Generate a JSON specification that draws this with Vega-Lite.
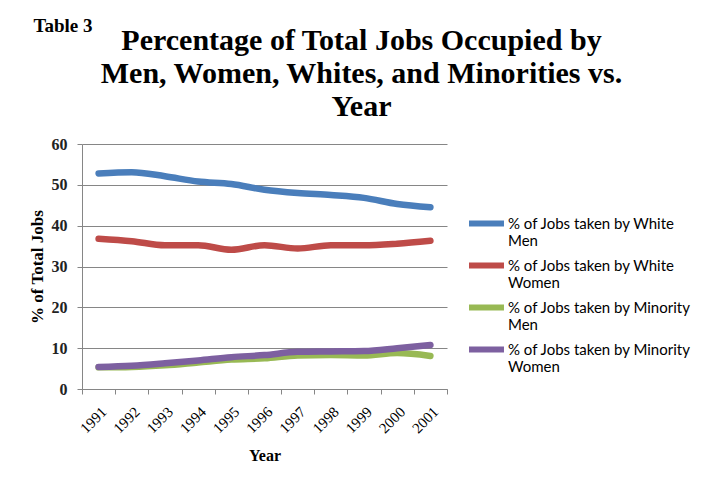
{
  "$schema": "https://vega.github.io/schema/vega-lite/v6.json",
  "width": 365,
  "height": 245,
  "autosize": {"type": "none"},
  "padding": {"left": 82, "top": 144, "right": 263, "bottom": 93},
  "background": "white",
  "title": {
    "text": "Table 3",
    "subtitle": ["Percentage of Total Jobs Occupied by", "Men, Women, Whites, and Minorities vs.", "Year"],
    "anchor": "middle",
    "frame": "group",
    "font": "Liberation Serif",
    "fontSize": 19,
    "fontWeight": "bold",
    "color": "black",
    "subtitleFont": "Liberation Serif",
    "subtitleFontSize": 30,
    "subtitleFontWeight": "bold",
    "subtitleColor": "black",
    "subtitleLineHeight": 33,
    "subtitlePadding": -4,
    "offset": 20,
    "dx": 97,
    "encoding": {"align": {"value": "left"}, "dx": {"value": -231}, "dy": {"value": 6}}
  },
  "data": {
    "values": [
      {"Year": "1991", "Series": "% of Jobs taken by White Men", "Value": 52.8},
      {"Year": "1992", "Series": "% of Jobs taken by White Men", "Value": 53.1},
      {"Year": "1993", "Series": "% of Jobs taken by White Men", "Value": 52.1},
      {"Year": "1994", "Series": "% of Jobs taken by White Men", "Value": 50.8},
      {"Year": "1995", "Series": "% of Jobs taken by White Men", "Value": 50.2},
      {"Year": "1996", "Series": "% of Jobs taken by White Men", "Value": 48.8},
      {"Year": "1997", "Series": "% of Jobs taken by White Men", "Value": 48.0},
      {"Year": "1998", "Series": "% of Jobs taken by White Men", "Value": 47.5},
      {"Year": "1999", "Series": "% of Jobs taken by White Men", "Value": 46.8},
      {"Year": "2000", "Series": "% of Jobs taken by White Men", "Value": 45.3},
      {"Year": "2001", "Series": "% of Jobs taken by White Men", "Value": 44.5},
      {"Year": "1991", "Series": "% of Jobs taken by White Women", "Value": 36.8},
      {"Year": "1992", "Series": "% of Jobs taken by White Women", "Value": 36.2},
      {"Year": "1993", "Series": "% of Jobs taken by White Women", "Value": 35.2},
      {"Year": "1994", "Series": "% of Jobs taken by White Women", "Value": 35.2},
      {"Year": "1995", "Series": "% of Jobs taken by White Women", "Value": 34.1},
      {"Year": "1996", "Series": "% of Jobs taken by White Women", "Value": 35.2},
      {"Year": "1997", "Series": "% of Jobs taken by White Women", "Value": 34.4},
      {"Year": "1998", "Series": "% of Jobs taken by White Women", "Value": 35.2},
      {"Year": "1999", "Series": "% of Jobs taken by White Women", "Value": 35.2},
      {"Year": "2000", "Series": "% of Jobs taken by White Women", "Value": 35.6},
      {"Year": "2001", "Series": "% of Jobs taken by White Women", "Value": 36.3},
      {"Year": "1991", "Series": "% of Jobs taken by Minority Men", "Value": 5.3},
      {"Year": "1992", "Series": "% of Jobs taken by Minority Men", "Value": 5.4},
      {"Year": "1993", "Series": "% of Jobs taken by Minority Men", "Value": 5.8},
      {"Year": "1994", "Series": "% of Jobs taken by Minority Men", "Value": 6.5},
      {"Year": "1995", "Series": "% of Jobs taken by Minority Men", "Value": 7.2},
      {"Year": "1996", "Series": "% of Jobs taken by Minority Men", "Value": 7.5},
      {"Year": "1997", "Series": "% of Jobs taken by Minority Men", "Value": 8.2},
      {"Year": "1998", "Series": "% of Jobs taken by Minority Men", "Value": 8.3},
      {"Year": "1999", "Series": "% of Jobs taken by Minority Men", "Value": 8.2},
      {"Year": "2000", "Series": "% of Jobs taken by Minority Men", "Value": 8.8},
      {"Year": "2001", "Series": "% of Jobs taken by Minority Men", "Value": 8.1},
      {"Year": "1991", "Series": "% of Jobs taken by Minority Women", "Value": 5.4},
      {"Year": "1992", "Series": "% of Jobs taken by Minority Women", "Value": 5.7},
      {"Year": "1993", "Series": "% of Jobs taken by Minority Women", "Value": 6.3},
      {"Year": "1994", "Series": "% of Jobs taken by Minority Women", "Value": 7.0},
      {"Year": "1995", "Series": "% of Jobs taken by Minority Women", "Value": 7.8},
      {"Year": "1996", "Series": "% of Jobs taken by Minority Women", "Value": 8.3},
      {"Year": "1997", "Series": "% of Jobs taken by Minority Women", "Value": 9.1},
      {"Year": "1998", "Series": "% of Jobs taken by Minority Women", "Value": 9.2},
      {"Year": "1999", "Series": "% of Jobs taken by Minority Women", "Value": 9.3},
      {"Year": "2000", "Series": "% of Jobs taken by Minority Women", "Value": 10.0},
      {"Year": "2001", "Series": "% of Jobs taken by Minority Women", "Value": 10.8}
    ]
  },
  "mark": {"type": "line", "strokeWidth": 6.5, "interpolate": "monotone", "strokeCap": "round"},
  "encoding": {
    "x": {
      "field": "Year",
      "type": "ordinal",
      "bandPosition": 0.5,
      "scale": {"type": "band", "paddingInner": 0, "paddingOuter": 0},
      "axis": {
        "title": "Year",
        "titleFont": "Liberation Serif",
        "titleFontSize": 16,
        "titleFontWeight": "bold",
        "titleColor": "black",
        "titlePadding": 12,
        "labelAngle": -45,
        "labelFont": "Liberation Serif",
        "labelFontSize": 15,
        "labelColor": "black",
        "labelPadding": 10,
        "tickBand": "extent",
        "tickSize": 5,
        "tickColor": "#868686",
        "domainColor": "#868686",
        "grid": false
      }
    },
    "y": {
      "field": "Value",
      "type": "quantitative",
      "scale": {"domain": [0, 60], "nice": false},
      "axis": {
        "title": "% of Total Jobs",
        "titleFont": "Liberation Serif",
        "titleFontSize": 17,
        "titleFontWeight": "bold",
        "titleColor": "black",
        "titlePadding": 5,
        "values": [0, 10, 20, 30, 40, 50, 60],
        "labelFont": "Liberation Serif",
        "labelFontSize": 16,
        "labelFontWeight": "bold",
        "labelColor": "#222222",
        "labelPadding": 10,
        "tickSize": 5,
        "tickColor": "#868686",
        "domainColor": "#868686",
        "grid": true,
        "gridColor": "#868686",
        "gridWidth": 1
      }
    },
    "color": {
      "field": "Series",
      "type": "nominal",
      "sort": null,
      "scale": {
        "domain": ["% of Jobs taken by White Men", "% of Jobs taken by White Women", "% of Jobs taken by Minority Men", "% of Jobs taken by Minority Women"],
        "range": ["#4a7ebb", "#be4b48", "#98b954", "#7d60a0"]
      },
      "legend": {
        "title": null,
        "orient": "none",
        "legendX": 395,
        "legendY": 70,
        "symbolType": "M-2.8,0H2.8",
        "symbolStrokeWidth": 6,
        "symbolSize": 156,
        "labelFont": "Lato",
        "labelFontSize": 15,
        "labelColor": "black",
        "labelLineHeight": 20,
        "labelLimit": 300,
        "labelOffset": 12,
        "rowPadding": 4,
        "labelExpr": "[substring(datum.label, 0, lastindexof(datum.label, ' ')), substring(datum.label, lastindexof(datum.label, ' ') + 1)]"
      }
    },
    "order": {"field": "Year"}
  },
  "config": {
    "view": {"stroke": null}
  }
}
